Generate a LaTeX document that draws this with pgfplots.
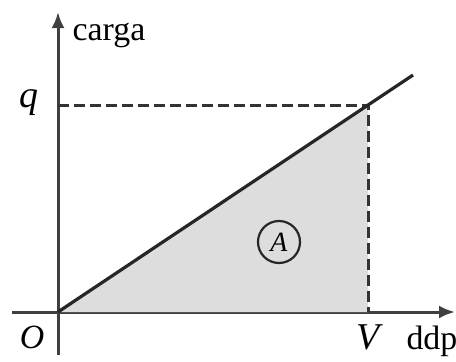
\documentclass[border=0pt]{standalone}
\usepackage{pgfplots}
\pgfplotsset{compat=1.18}
\usepackage{fontspec}
\setmainfont{Liberation Serif}
\usetikzlibrary{arrows.meta}
\begin{document}
\begin{tikzpicture}
\begin{axis}[
  x=1bp, y=1bp,
  axis lines=middle,
  xmin=-46, xmax=397, ymin=-43, ymax=300,
  xtick=\empty, ytick=\empty,
  axis line style={line width=3bp, black!75, -{Latex[length=16bp,width=13bp]}},
  clip=false,
]
\coordinate (bl) at (axis cs:-58,-49);
\coordinate (tr) at (axis cs:398,312);
\addplot[fill=gray!27, draw=none] coordinates {(0,0) (310,207) (310,0)} \closedcycle;
\addplot[line width=3bp, black!80, dash pattern=on 11bp off 5bp] coordinates {(0,207) (310,207) (310,0)};
\addplot[line width=3.2bp, black!85] coordinates {(0,0) (310,207) (355,237)};
\node[circle, draw=black!85, line width=2.2bp, minimum size=42bp, inner sep=0pt, font=\fontsize{28}{32}\selectfont\itshape] at (axis cs:221,70) {A};
\node[font=\fontsize{34}{38}\selectfont] at (axis cs:51,277) {carga};
\node[font=\fontsize{38}{42}\selectfont\itshape] at (axis cs:-29,209) {q};
\node[font=\fontsize{34}{38}\selectfont\itshape] at (axis cs:-26,-25) {O};
\node[font=\fontsize{38}{42}\selectfont\itshape] at (axis cs:310,-25) {V};
\node[font=\fontsize{34}{38}\selectfont, anchor=west] at (axis cs:345,-29) {ddp};
\end{axis}
\pgfresetboundingbox
\path (bl) rectangle (tr);
\end{tikzpicture}
\end{document}
